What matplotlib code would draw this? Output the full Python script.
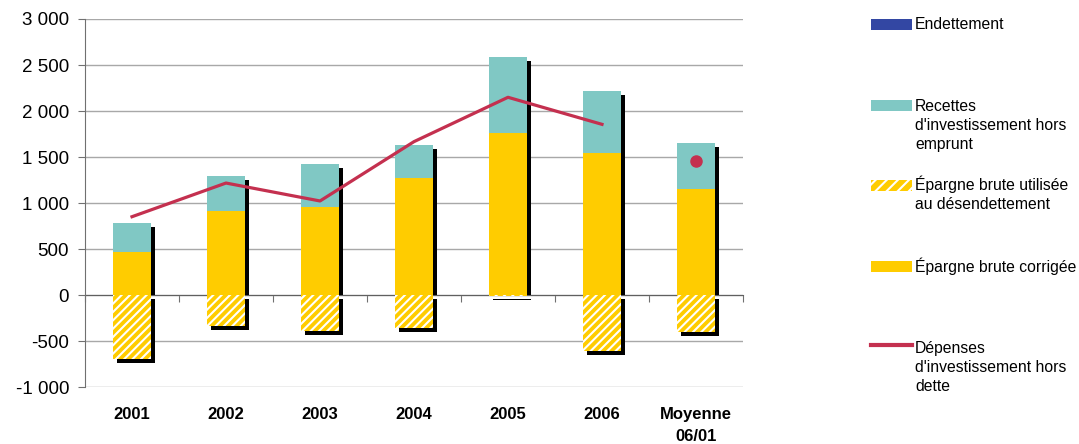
import matplotlib
matplotlib.use("Agg")
import matplotlib.pyplot as plt
import matplotlib.transforms as mtransforms
from matplotlib.patches import Rectangle
from matplotlib.lines import Line2D
import numpy as np

plt.rcParams['font.family'] = ['Liberation Sans', 'DejaVu Sans']
plt.rcParams['hatch.linewidth'] = 1.5
plt.rcParams['hatch.color'] = 'white'

categories = ['2001', '2002', '2003', '2004', '2005', '2006', 'Moyenne\n06/01']
epargne_corrigee = [467, 913, 957, 1272, 1761, 1543, 1152]
recettes_hors_emprunt = [316, 380, 467, 358, 826, 674, 500]
endettement = [0, 0, 0, 0, 0, 0, 0]
epargne_desendettement = [-696, -333, -388, -355, -8, -612, -399]
depenses_hors_dette = [851, 1217, 1022, 1667, 2149, 1855]
depenses_moyenne = 1457

YELLOW = '#FFCC00'
TEAL = '#80C8C4'
BLUE = '#3347A3'
RED = '#C4304F'
HATCH = '////'

fig = plt.figure(figsize=(10.79, 4.44), dpi=100)
ax_h = 368
ax = fig.add_axes([85 / 1079, 1 - 387 / 444, 658 / 1079, ax_h / 444])

YMIN, YMAX = -1000, 3000
x = np.arange(len(categories))
w = 0.4
corr = np.array(epargne_corrigee)
rec = np.array(recettes_hors_emprunt)
dette = np.array(endettement)
neg = np.array(epargne_desendettement)

# drop shadows, 4 px right and 4 px down; the upper one stops at the zero line
shift = 4 * (YMAX - YMIN) / ax_h
shadow_x = mtransforms.offset_copy(ax.transData, fig=fig, x=4, y=0, units='dots')
shadow_xy = mtransforms.offset_copy(ax.transData, fig=fig, x=4, y=-4, units='dots')
top = corr + rec + dette
ax.bar(x, top - shift, w, color='black', transform=shadow_x, zorder=2, linewidth=0)
ax.bar(x, neg, w, color='black', transform=shadow_xy, zorder=2, linewidth=0)

ax.bar(x, corr, w, color=YELLOW, zorder=3, linewidth=0)
ax.bar(x, rec, w, bottom=corr, color=TEAL, zorder=3, linewidth=0)
ax.bar(x, dette, w, bottom=corr + rec, color=BLUE, zorder=3, linewidth=0)
ax.bar(x, neg, w, color=YELLOW, hatch=HATCH, edgecolor='white', zorder=3, linewidth=0)

ax.plot(x[:len(depenses_hors_dette)], depenses_hors_dette, color=RED, lw=2.3, zorder=5)
ax.plot([x[-1]], [depenses_moyenne], 'o', color=RED, ms=8, zorder=5)

ax.set_xlim(-0.5, 6.5)
ax.set_ylim(YMIN, YMAX)
ticks = np.arange(YMIN, YMAX + 1, 500)
ax.set_yticks(ticks)
ax.set_yticklabels([f'{v:,}'.replace(',', ' ') for v in ticks], fontsize=13.5)
ax.yaxis.grid(True, color='#A8A8A8', lw=1)
ax.set_axisbelow(True)
ax.tick_params(axis='y', length=5, color='#707070', pad=6.5)

ax.spines['top'].set_visible(False)
ax.spines['right'].set_visible(False)
ax.spines['left'].set_color('#707070')
ax.spines['bottom'].set_position(('data', 0))
ax.spines['bottom'].set_color('#606060')
ax.spines['bottom'].set_zorder(1.5)
ax.set_xticks(np.arange(-0.5, 7, 1))
ax.set_xticklabels([])
ax.tick_params(axis='x', length=5, color='#707070', direction='out')

lab_tr = mtransforms.blended_transform_factory(ax.transData, ax.transAxes)
for xi, c in zip(x, categories):
    ax.text(xi, -0.055, c, transform=lab_tr, ha='center', va='top',
            fontsize=12, fontweight='bold', linespacing=1.55)

# legend on the right, positions in pixels (top-left origin)
def px(xp, yp):
    return xp / 1079, 1 - yp / 444

legend_items = [
    ('Endettement', 'patch', BLUE, 19, 29),
    ("Recettes\nd'investissement hors\nemprunt", 'patch', TEAL, 100, 111),
    ('Épargne brute utilisée\nau désendettement', 'hatch', YELLOW, 180, 190),
    ('Épargne brute corrigée', 'patch', YELLOW, 261, 272),
    ("Dépenses\nd'investissement hors\ndette", 'line', RED, 345, 353),
]
line_step = 19
for label, kind, color, ytop, ybase in legend_items:
    x0, y1 = px(871, ytop)
    x1, y0 = px(912, ytop + 11)
    if kind == 'line':
        fig.add_artist(Line2D([x0, x1], [y1, y1], color=color, lw=3,
                              transform=fig.transFigure))
    elif kind == 'hatch':
        fig.add_artist(Rectangle((x0, y0), x1 - x0, y1 - y0, facecolor=color, hatch='///',
                                 edgecolor='white', lw=0, transform=fig.transFigure))
    else:
        fig.add_artist(Rectangle((x0, y0), x1 - x0, y1 - y0, facecolor=color, lw=0,
                                 transform=fig.transFigure))
    for i, line in enumerate(label.split('\n')):
        tx, ty = px(915, ybase + i * line_step)
        fig.text(tx, ty, line, ha='left', va='baseline', fontsize=11.3)

fig.savefig('out.png', dpi=100)
